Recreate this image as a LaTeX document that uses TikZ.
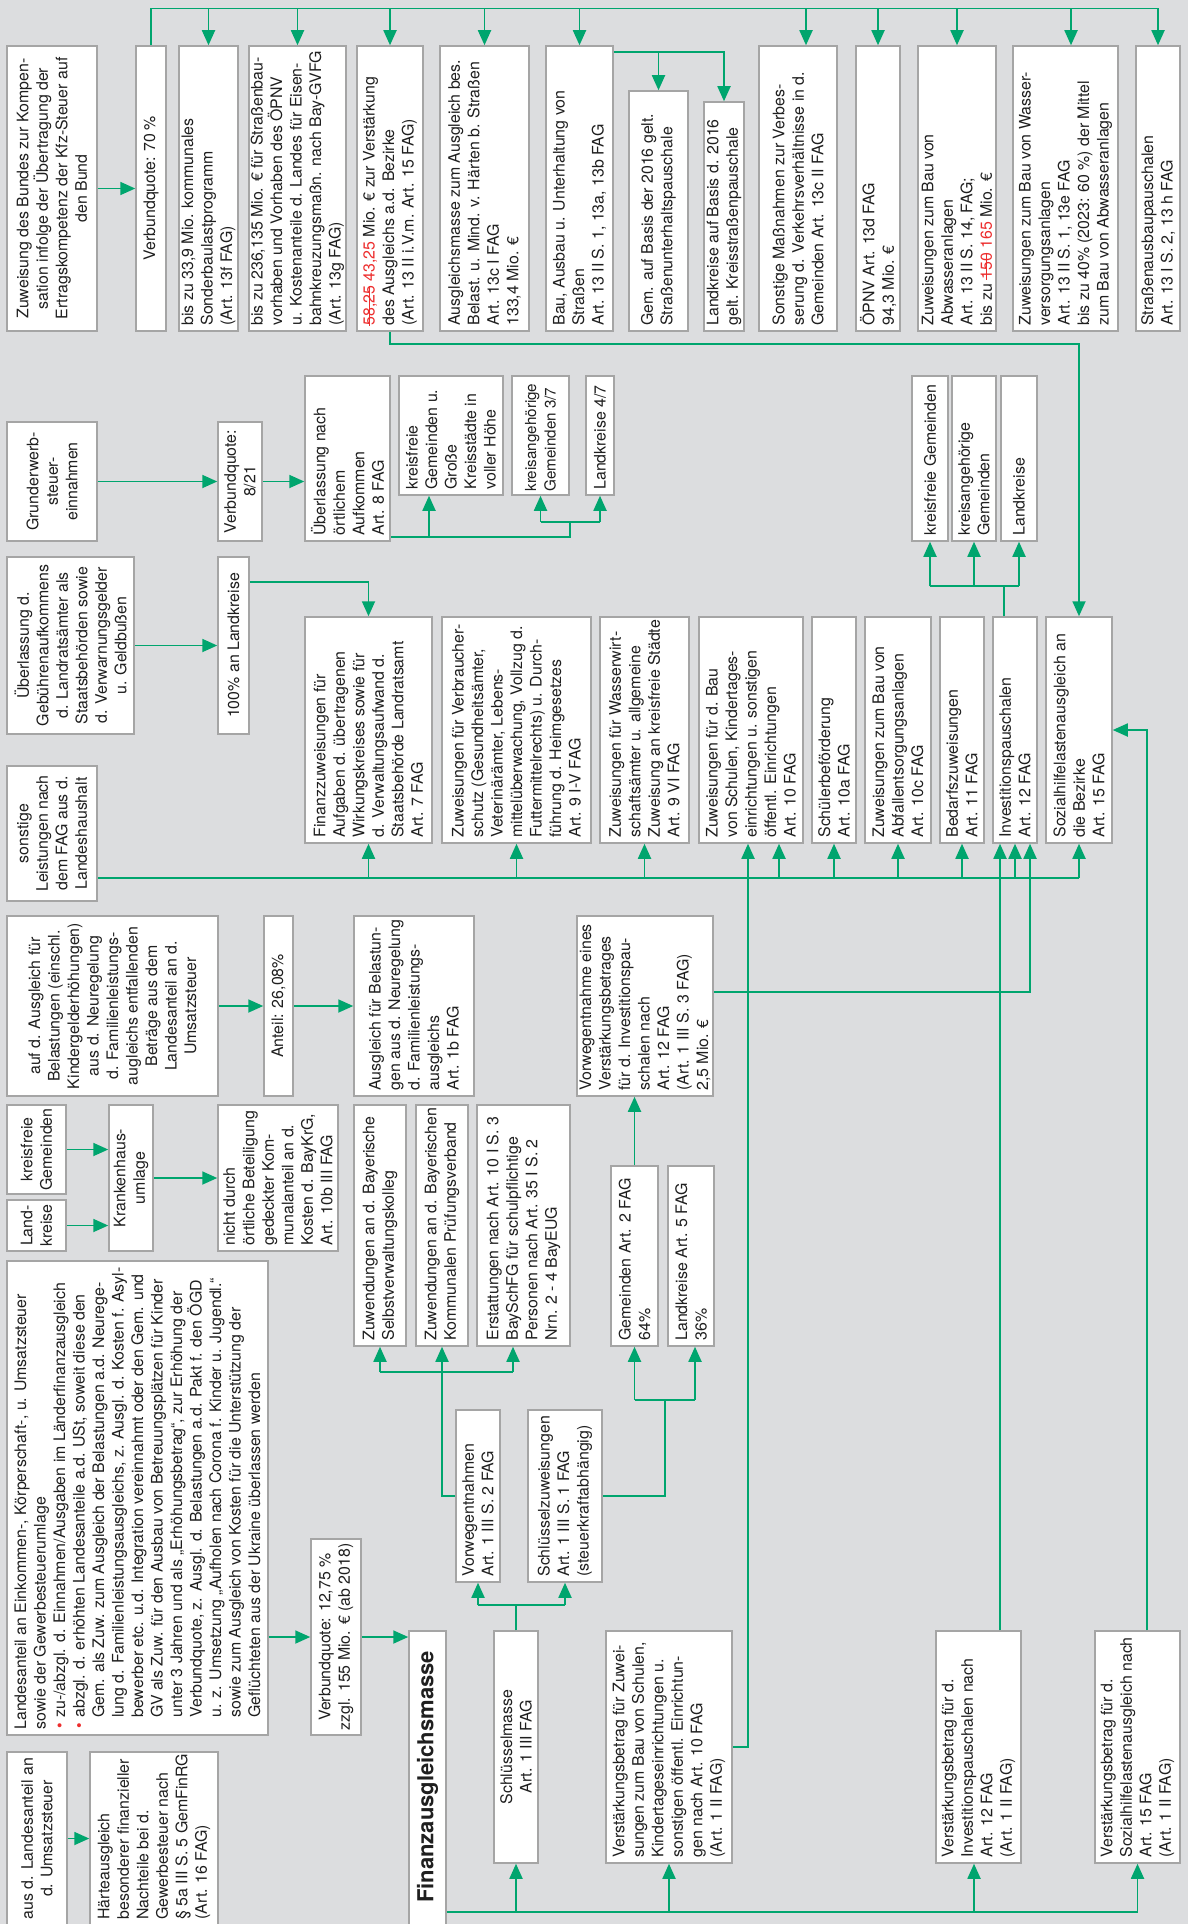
\documentclass[tikz,border=0pt]{standalone}
\usepackage{fontspec}
\setmainfont{TeX Gyre Heros}
\usetikzlibrary{arrows.meta,calc}
\definecolor{bgc}{RGB}{220,221,223}
\definecolor{bgray}{RGB}{165,165,165}
\definecolor{fgreen}{RGB}{0,165,110}
\definecolor{fred}{RGB}{237,45,45}
\newcommand\myfs{\fontsize{15.9}{19.5}\selectfont}
\newcommand\strk[1]{\setbox0=\hbox{#1}\rlap{\rule[0.3em]{\wd0}{0.07em}}\box0}
\tikzset{
 box/.style={draw=bgray, fill=white, line width=1.5pt, inner sep=0pt, rectangle},
 txt/.style={rotate=90, inner sep=0pt, font=\myfs, text=black!88},
 gline/.style={draw=fgreen, line width=1.8pt},
 garr/.style={gline, -{Triangle[length=15pt,width=13pt]}},
}
\newcommand\bxl[6]{%
  \pgfmathsetmacro\bxw{#4-#2}\pgfmathsetmacro\bxh{#5-#3}%
  \pgfmathsetmacro\bxcx{(#2+#4)/2}\pgfmathsetmacro\bxcy{(#3+#5)/2}%
  \node[box, minimum width=\bxw pt, minimum height=\bxh pt] (#1) at (\bxcx,\bxcy) {};%
  \node[txt, align=left, anchor=west] (#1-t) at ($(#1.south)+(0,-6)$) {#6};}
\newcommand\bxc[6]{%
  \pgfmathsetmacro\bxw{#4-#2}\pgfmathsetmacro\bxh{#5-#3}%
  \pgfmathsetmacro\bxcx{(#2+#4)/2}\pgfmathsetmacro\bxcy{(#3+#5)/2}%
  \node[box, minimum width=\bxw pt, minimum height=\bxh pt] (#1) at (\bxcx,\bxcy) {};%
  \node[txt, align=center] (#1-t) at (#1.center) {#6};}
\begin{document}
\begin{tikzpicture}[x=1pt,y=-1pt]
\fill[bgc] (0,0) rectangle (1188,1924);
\useasboundingbox (0,0) rectangle (1188,1924);

% ---------- top row ----------
\bxc{kfz}{7}{46}{97}{331}{Zuweisung des Bundes zur Kompen-\\sation infolge der Übertragung der\\Ertragskompetenz der Kfz-Steuer auf\\den Bund}
\bxc{v70}{136}{46}{166}{331}{Verbundquote: 70\,\%}
\bxl{b1}{179}{46}{238}{331}{bis zu 33,9 Mio. kommunales\\Sonderbaulastprogramm\\(Art. 13f FAG)}
\bxl{b2}{249}{46}{346}{331}{bis zu 236,135 Mio. € für Straßenbau-\\vorhaben und Vorhaben des ÖPNV\\u. Kostenanteile d. Landes für Eisen-\\bahnkreuzungsmaßn. nach Bay-GVFG\\(Art. 13g FAG)}
\bxl{b3}{357}{46}{423}{331}{\textcolor{fred}{\strk{58,25}} \textcolor{fred}{43,25} Mio. € zur Verstärkung\\des Ausgleichs a.d. Bezirke\\(Art. 13 II i.V.m. Art. 15 FAG)}
\bxl{b4}{440}{46}{529}{331}{Ausgleichsmasse zum Ausgleich bes.\\Belast. u. Mind. v. Härten b. Straßen\\Art. 13c I FAG\\133,4 Mio. €}
\bxl{b5}{546}{46}{613}{331}{Bau, Ausbau u. Unterhaltung von\\Straßen\\Art. 13 II S. 1, 13a, 13b FAG}
\bxl{b5a}{629}{91}{688}{331}{Gem. auf Basis der 2016 gelt.\\Straßenunterhaltspauschale}
\bxl{b5b}{704}{102}{744}{331}{Landkreise auf Basis d. 2016\\gelt. Kreisstraßenpauschale}
\bxl{b6}{759}{46}{837}{331}{Sonstige Maßnahmen zur Verbes-\\serung d. Verkehrsverhältnisse in d.\\Gemeinden Art. 13c II FAG}
\bxl{b7}{856}{46}{900}{331}{ÖPNV Art. 13d FAG\\94,3 Mio. €}
\bxl{b8}{918}{46}{996}{331}{Zuweisungen zum Bau von\\Abwasseranlagen\\Art. 13 II S. 14, FAG;\\bis zu \textcolor{fred}{\strk{150}} \textcolor{fred}{165} Mio. €}
\bxl{b9}{1013}{46}{1118}{331}{Zuweisungen zum Bau von Wasser-\\versorgungsanlagen\\Art. 13 II S. 1, 13e FAG\\bis zu 40\% (2023: 60 \%) der Mittel\\zum Bau von Abwasseranlagen}
\bxl{b10}{1136}{46}{1180}{331}{Straßenausbaupauschalen\\Art. 13 I S. 2, 13 h FAG}

% ---------- second band ----------
\bxc{grund}{7}{422}{97}{541}{Grunderwerb-\\steuer-\\einnahmen}
\bxc{v821}{218}{422}{262}{541}{Verbundquote:\\8/21}
\bxl{ueb}{305}{376}{390}{541}{Überlassung nach\\örtlichem\\Aufkommen\\Art. 8 FAG}
\bxl{kfg}{399}{376}{503}{495}{kreisfreie\\Gemeinden u.\\Große\\Kreisstädte in\\voller Höhe}
\node[box, minimum width=57pt, minimum height=119pt] (kag) at (540.5,435.5) {};
\node[txt, align=left, anchor=west, font=\fontsize{15.2}{19.5}\selectfont] (kag-t) at ($(kag.south)+(0,-4)$) {kreisangehörige\\Gemeinden 3/7};
\bxl{lk47}{586}{376}{614}{495}{Landkreise 4/7}
\bxl{kfg2}{912}{376}{948}{541}{kreisfreie Gemeinden}
\bxl{kag2}{952}{376}{996}{541}{kreisangehörige\\Gemeinden}
\bxl{lk2}{1001}{376}{1037}{541}{Landkreise}

% ---------- third band ----------
\bxc{geb}{7}{557}{134}{734}{Überlassung d.\\Gebührenaufkommens\\d. Landratsämter als\\Staatsbehörden sowie\\d. Verwarnungsgelder\\u. Geldbußen}
\bxc{p100}{218}{557}{249}{734}{100\% an Landkreise}
\bxc{sonst2}{7}{766}{97}{901}{sonstige\\Leistungen nach\\dem FAG aus d.\\Landeshaushalt}
\bxl{finz}{305}{617}{432}{843}{Finanzzuweisungen für\\Aufgaben d. übertragenen\\Wirkungskreises sowie für\\d. Verwaltungsaufwand d.\\Staatsbehörde Landratsamt\\Art. 7 FAG}
\bxl{verb}{442}{617}{591}{843}{Zuweisungen für Verbraucher-\\schutz (Gesundheitsämter,\\Veterinärämter, Lebens-\\mittelüberwachung, Vollzug d.\\Futtermittelrechts) u. Durch-\\führung d. Heimgesetzes\\Art. 9 I-V FAG}
\bxl{wwa}{600}{617}{689}{843}{Zuweisungen für Wasserwirt-\\schaftsämter u. allgemeine\\Zuweisung an kreisfreie Städte\\Art. 9 VI FAG}
\bxl{schul}{699}{617}{803}{843}{Zuweisungen für d. Bau\\von Schulen, Kindertages-\\einrichtungen u. sonstigen\\öffentl. Einrichtungen\\Art. 10 FAG}
\bxl{schb}{812}{617}{856}{843}{Schülerbeförderung\\Art. 10a FAG}
\bxl{abf}{865}{617}{931}{843}{Zuweisungen zum Bau von\\Abfallentsorgungsanlagen\\Art. 10c FAG}
\bxl{bed}{940}{617}{984}{843}{Bedarfszuweisungen\\Art. 11 FAG}
\bxl{inv}{993}{617}{1037}{843}{Investitionspauschalen\\Art. 12 FAG}
\bxl{soz}{1046}{617}{1112}{843}{Sozialhilfelastenausgleich an\\die Bezirke\\Art. 15 FAG}

% ---------- fourth band ----------
\bxc{aufd}{7}{916}{218}{1096}{auf d. Ausgleich für\\Belastungen (einschl.\\Kindergelderhöhungen)\\aus d. Neuregelung\\d. Familienleistungs-\\augleichs entfallenden\\Beträge aus dem\\Landesanteil an d.\\Umsatzsteuer}
\bxc{ant}{264}{916}{293}{1096}{Anteil: 26,08\%}
\bxl{afb}{354}{916}{474}{1096}{Ausgleich für Belastun-\\gen aus d. Neuregelung\\d. Familienleistungs-\\ausgleichs\\Art. 1b FAG}
\bxl{vorw}{577}{916}{713}{1096}{Vorwegentnahme eines\\Verstärkungsbetrages\\für d. Investitionspau-\\schalen nach\\Art. 12 FAG\\(Art. 1 III S. 3 FAG)\\2,5 Mio. €}

% ---------- fifth band ----------
\bxc{kfg3}{7}{1105}{66}{1194}{kreisfreie\\Gemeinden}
\bxc{lk3}{7}{1200}{66}{1251}{Land-\\kreise}
\bxc{kh}{109}{1105}{153}{1251}{Krankenhaus-\\umlage}
\bxl{nicht}{218}{1105}{338}{1251}{nicht durch\\örtliche Beteiligung\\gedeckter Kom-\\munalanteil an d.\\Kosten d. BayKrG,\\Art. 10b III FAG}
\bxl{sv}{354}{1105}{406}{1346}{Zuwendungen an d. Bayerische\\Selbstverwaltungskolleg}
\bxl{pv}{416}{1105}{468}{1346}{Zuwendungen an d. Bayerischen\\Kommunalen Prüfungsverband}
\bxl{erst}{477}{1105}{570}{1346}{Erstattungen nach Art. 10 I S. 3\\BaySchFG für schulpflichtige\\Personen nach Art. 35 I S. 2\\Nrn. 2 - 4 BayEUG}
\bxl{gem}{611}{1166}{658}{1346}{Gemeinden Art. 2 FAG\\64\%}
\bxl{lk5}{668}{1166}{714}{1346}{Landkreise Art. 5 FAG\\36\%}

% ---------- sixth band ----------
\bxl{big}{7}{1261}{268}{1735}{Landesanteil an Einkommen-, Körperschaft-, u. Umsatzsteuer\\sowie der Gewerbesteuerumlage\\\makebox[12pt][l]{\hspace{1pt}\textcolor{fred}{\textbullet}}zu-/abzgl. d. Einnahmen/Ausgaben im Länderfinanzausgleich\\\makebox[12pt][l]{\hspace{1pt}\textcolor{fred}{\textbullet}}abzgl. d. erhöhten Landesanteile a.d. USt, soweit diese den\\\hspace*{12pt}Gem. als Zuw. zum Ausgleich der Belastungen a.d. Neurege-\\\hspace*{12pt}lung d. Familienleistungsausgleichs, z. Ausgl. d. Kosten f. Asyl-\\\hspace*{12pt}bewerber etc. u.d. Integration vereinnahmt oder den Gem. und\\\hspace*{12pt}GV als Zuw. für den Ausbau von Betreuungsplätzen für Kinder\\\hspace*{12pt}unter 3 Jahren und als „Erhöhungsbetrag“, zur Erhöhung der\\\hspace*{12pt}Verbundquote, z. Ausgl. d. Belastungen a.d. Pakt f. den ÖGD\\\hspace*{12pt}u. z. Umsetzung „Aufholen nach Corona f. Kinder u. Jugendl.“\\\hspace*{12pt}sowie zum Ausgleich von Kosten für die Unterstützung der\\\hspace*{12pt}Geflüchteten aus der Ukraine überlassen werden}
\bxc{v1275}{311}{1539}{361}{1735}{Verbundquote: 12,75 \%\\zzgl. 155 Mio. € (ab 2018)}
\bxl{vwe}{456}{1410}{500}{1582}{Vorwegentnahmen\\Art. 1 III S. 2 FAG}
\bxl{szw}{528}{1410}{602}{1582}{Schlüsselzuweisungen\\Art. 1 III S. 1 FAG\\(steuerkraftabhängig)}
\node[box, minimum width=37pt, minimum height=300pt] (fam) at (427.5,1781) {};
\node[txt, anchor=west, font=\fontsize{22}{26}\selectfont\bfseries] (fam-t) at (427.5,1903) {Finanzausgleichsmasse};
\bxc{sm}{494}{1631}{538}{1863}{Schlüsselmasse\\Art. 1 III FAG}
\bxl{vschul}{606}{1631}{732}{1863}{Verstärkungsbetrag für Zuwei-\\sungen zum Bau von Schulen,\\Kindertageseinrichtungen u.\\sonstigen öffentl. Einrichtun-\\gen nach Art. 10 FAG\\(Art. 1 II FAG)}
\bxl{vinv}{936}{1631}{1021}{1863}{Verstärkungsbetrag für d.\\Investitionspauschalen nach\\Art. 12 FAG\\(Art. 1 II FAG)}
\bxl{vsoz}{1095}{1631}{1180}{1863}{Verstärkungsbetrag für d.\\Sozialhilfelastenausgleich nach\\Art. 15 FAG\\(Art. 1 II FAG)}
\bxc{ausl}{7}{1752}{67}{1925}{aus d. Landesanteil an\\d. Umsatzsteuer}
\bxl{haert}{90}{1752}{218}{1925}{Härteausgleich\\besonderer finanzieller\\Nachteile bei d.\\Gewerbesteuer nach\\§ 5a III S. 5 GemFinRG\\(Art. 16 FAG)}

% ================= connectors =================
% top distribution line
\coordinate (top) at (0,8.5);
\coordinate (b6in) at ([xshift=8pt]b6.north);
\coordinate (b9in) at ([xshift=5.5pt]b9.north);
\draw[gline] (v70.north) |- (top -| b10.north);
\foreach \n in {b1,b2,b3,b4,b5,b7,b8,b10} \draw[garr] (top -| \n.north) -- (\n.north);
\draw[garr] (top -| b6in) -- (b6in);
\draw[garr] (top -| b9in) -- (b9in);
\draw[garr] (kfz.east) -- (kfz.east -| v70.west);
% Bau -> Gem / Landkreise
\coordinate (bj) at ([yshift=-7pt]b5.north east);
\draw[gline] (bj) -- (bj -| b5a.north);
\draw[garr] (bj -| b5a.north) -- (b5a.north);
\draw[garr] (bj) -| (b5b.north);
% Bezirke -> Sozialhilfe
\coordinate (r2) at (0,344);
\draw[garr] (b3.south) -- (b3.south |- r2) -| (soz.north);

% Grunderwerbsteuer
\draw[garr] (grund.east) -- (v821.west);
\draw[garr] (v821.east) -- (v821.east -| ueb.west);
\coordinate (uj) at ([yshift=5pt]ueb.south east);
\coordinate (uk) at (uj -| kag.south east);
\coordinate (ul) at ([yshift=15pt]uk);
\coordinate (kfgin) at ([xshift=-22pt]kfg.south);
\draw[gline] (uj) -- (uk) -- (ul);
\draw[gline] (ul -| kag.south) -- (ul -| lk47.south);
\draw[garr] (ul -| kag.south) -- (kag.south);
\draw[garr] (ul -| lk47.south) -- (lk47.south);
\draw[garr] (kfgin |- uj) -- (kfgin);

% Investitionspauschalen -> three
\coordinate (ij) at ([xshift=-11pt]inv.north);
\coordinate (ih) at ([yshift=30pt]ij);
\draw[gline] (ij) -- (ih);
\draw[gline] (ih -| kfg2.south) -- (ih -| lk2.south);
\foreach \n in {kfg2,kag2,lk2} \draw[garr] (ih -| \n.south) -- (\n.south);

% Gebühren
\draw[garr] (geb.east) -- (p100.west);
\coordinate (pj) at ([yshift=-26pt]p100.north east);
\draw[garr] (pj) -| (finz.north);

% sonstige Leistungen
\coordinate (sj) at ([yshift=24pt]sonst2.south east);
\coordinate (schin2) at ([xshift=28pt]schul.south);
\draw[gline] (sj) -- (sj -| soz.south);
\foreach \n in {finz,verb,wwa,schb,abf,bed,inv,soz} \draw[garr] (sj -| \n.south) -- (\n.south);
\draw[garr] (sj -| schin2) -- (schin2);

% Verstärkungsbeträge
\coordinate (schin1) at ([xshift=-3pt]schul.south);
\draw[garr] (vschul.east) -| (schin1);
\coordinate (invin1) at ([xshift=-15pt]inv.south);
\draw[garr] (vinv.north -| invin1) -- (invin1);
\coordinate (invin3) at ([xshift=15pt]inv.south);
\coordinate (vj) at ([yshift=-77pt]vorw.north east);
\draw[garr] (vj) -| (invin3);
\coordinate (vsj) at ([xshift=9.5pt]vsoz.north);
\draw[garr] (vsj) |- (soz.east);

% Familienleistungsausgleich
\draw[garr] (aufd.east) -- (ant.west);
\draw[garr] (ant.east) -- (afb.west);
\draw[garr] (gem.north) -- (gem.north |- vorw.south);

% Krankenhausumlage
\draw[garr] (kfg3.east) -- (kfg3.east -| kh.west);
\draw[garr] (lk3.east) -- (lk3.east -| kh.west);
\draw[garr] (kh.east) -- (kh.east -| nicht.west);

% Vorwegentnahmen
\coordinate (vh) at (0,1372);
\coordinate (erstin) at ([xshift=-10.5pt]erst.south);
\draw[gline] (vh -| sv.south) -- (vh -| erstin);
\draw[garr] (vwe.west) -| (pv.south);
\draw[garr] (vh -| sv.south) -- (sv.south);
\draw[garr] (vh -| erstin) -- (erstin);

% Schlüsselzuweisungen
\coordinate (szj) at (665,1400);
\coordinate (lk5in) at ([xshift=4pt]lk5.south);
\draw[gline] (szw.east) -| (szj);
\draw[gline] (szj -| gem.south) -- (szj -| lk5in);
\draw[garr] (szj -| gem.south) -- (gem.south);
\draw[garr] (szj -| lk5in) -- (lk5in);

% Landesanteil -> Verbundquote -> FAM
\draw[garr] (v1275.west -| big.east) -- (v1275.west);
\draw[garr] (v1275.east) -- (v1275.east -| fam.west);
\draw[garr] (ausl.east) -- (ausl.east -| haert.west);

% Schlüsselmasse
\coordinate (smh) at ([yshift=25pt]sm.north);
\draw[gline] (sm.north) -- (smh);
\draw[gline] (smh -| vwe.south) -- (smh -| szw.south);
\draw[garr] (smh -| vwe.south) -- (vwe.south);
\draw[garr] (smh -| szw.south) -- (szw.south);

% bottom distribution line
\coordinate (bh) at (0,1912);
\coordinate (vinvin) at ([xshift=-4.5pt]vinv.south);
\draw[gline] (bh -| fam.east) -- (bh -| vsoz.south);
\draw[garr] (bh -| sm.south) -- (sm.south);
\draw[garr] (bh -| vschul.south) -- (vschul.south);
\draw[garr] (bh -| vinvin) -- (vinvin);
\draw[garr] (bh -| vsoz.south) -- (vsoz.south);
\end{tikzpicture}
\end{document}
